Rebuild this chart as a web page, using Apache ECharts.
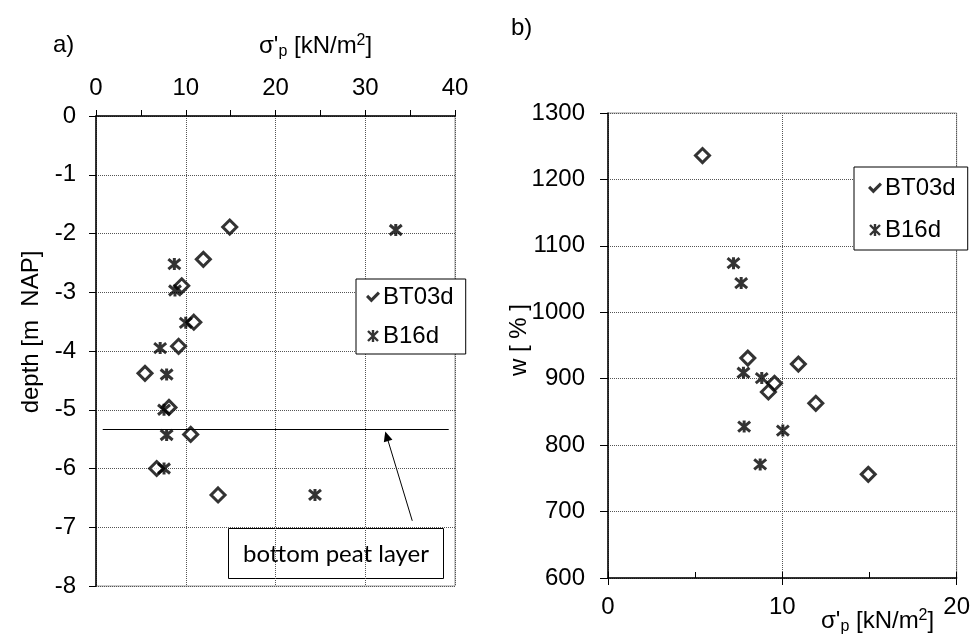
<!DOCTYPE html>
<html>
<head>
<meta charset="utf-8">
<script src="https://cdn.jsdelivr.net/npm/echarts@6/dist/echarts.min.js"></script>
<style>html,body{margin:0;padding:0;background:#fff}#c{width:973px;height:637px}</style>
</head>
<body>
<div id="c"></div>
<script>
// ---- data: panel a (depth vs preconsolidation stress) ----
const aSigmaBT03d = [14.9, 11.96, 9.55, 10.9, 9.2, 5.46, 8.13, 10.55, 6.76, 13.6];
const aDepthBT03d = [-1.89, -2.44, -2.89, -3.51, -3.92, -4.38, -4.96, -5.42, -6.0, -6.45];
const aSigmaB16d = [33.4, 8.73, 8.8, 10.0, 7.15, 7.87, 7.58, 7.87, 7.58, 24.4];
const aDepthB16d = [-1.94, -2.52, -2.97, -3.52, -3.95, -4.4, -5.0, -5.43, -6.0, -6.45];
// ---- data: panel b (water content vs preconsolidation stress) ----
const bSigmaBT03d = [5.42, 8.02, 10.92, 9.55, 9.2, 11.92, 14.93];
const bWBT03d = [1236, 931, 922, 893, 880, 863, 756];
const bSigmaB16d = [7.2, 7.64, 7.77, 8.82, 7.81, 10.03, 8.73];
const bWB16d = [1074, 1044, 909, 901, 828, 822, 771];
// ---- annotation: bottom peat layer ----
const peatDepth = -5.33;
const peatLineX = [0.75, 39.3];
const arrowFrom = [35.24, -6.89];
const arrowTo = [32.39, -5.45];
const seriesNames = ['BT03d', 'B16d'];
const peatLabel = 'bottom peat layer';
const aXTicks = [0, 40, 10];
const aYTicks = [-8, 0, 1];
const bXTicks = [0, 20, 10];
const bYTicks = [600, 1300, 100];

const FONT = "'Liberation Sans', Arial, sans-serif";
const FS = 24;
const pairs = (xs, ys) => xs.map((x, i) => [x, ys[i]]);
const starPath = 'path://M0,0L10,10M10,0L0,10M5,-1L5,11';
const checkPath = 'path://M0,5L2,3L5,6L11,0L13,2L5,10Z';
const gridLine = {show: true, lineStyle: {color: '#555', type: [1, 1], width: 1}};
const plain = v => String(v);
const axisLabelStyle = {color: '#000', fontSize: FS, fontFamily: FONT, formatter: plain};
const blackLine = {show: true, lineStyle: {color: '#000', width: 1.5}};

const diamondStyle = {color: '#fff', borderColor: '#000', borderWidth: 3};
const starStyle = {color: '#000', borderColor: '#000', borderWidth: 3};

function legendFor(left, top, padding, gap) {
  return {
    left: left, top: top, orient: 'vertical', padding: padding, itemGap: gap,
    itemWidth: 14, itemHeight: 12, backgroundColor: '#fff', borderColor: '#000', borderWidth: 1,
    borderRadius: 0,
    textStyle: {fontSize: FS, fontFamily: FONT, color: '#000', padding: [0, 0, 0, -2]},
    data: [
      {name: seriesNames[0], icon: checkPath, itemStyle: {color: '#000', borderWidth: 0}},
      {name: seriesNames[1], icon: starPath, itemStyle: {color: '#000', borderColor: '#000', borderWidth: 2.4}}
    ]
  };
}

function richTitle() {
  return {
    text: "{a|σ'}{s|p}{a| [kN/m}{u|2}{a|]}",
    rich: {
      a: {fontSize: FS, fontFamily: FONT, lineHeight: 27, fill: '#000'},
      s: {fontSize: 16, fontFamily: FONT, lineHeight: 12, verticalAlign: 'bottom', fill: '#000'},
      u: {fontSize: 16, fontFamily: FONT, lineHeight: 14, verticalAlign: 'top', fill: '#000'}
    }
  };
}

const chart = echarts.init(document.getElementById('c'), null, {renderer: 'canvas'});
const option = {
  animation: false,
  backgroundColor: '#fff',
  textStyle: {fontFamily: FONT},
  grid: [
    {left: 96, top: 116, width: 359, height: 470, show: true, borderColor: '#999', borderWidth: 1, backgroundColor: 'transparent'},
    {left: 608, top: 113, width: 349, height: 465, show: true, borderColor: '#999', borderWidth: 1, backgroundColor: 'transparent'}
  ],
  xAxis: [
    {gridIndex: 0, type: 'value', position: 'top', min: aXTicks[0], max: aXTicks[1], interval: aXTicks[2],
     axisLine: blackLine, axisTick: {show: true, length: 6, lineStyle: {color: '#000'}},
     minorTick: {show: true, splitNumber: 2, length: 6, lineStyle: {color: '#000'}},
     axisLabel: Object.assign({margin: 16}, axisLabelStyle), splitLine: gridLine},
    {gridIndex: 1, type: 'value', position: 'bottom', min: bXTicks[0], max: bXTicks[1], interval: bXTicks[2],
     axisLine: blackLine, axisTick: {show: true, length: 7, lineStyle: {color: '#000'}},
     axisLabel: Object.assign({margin: 17}, axisLabelStyle), splitLine: gridLine},
    {gridIndex: 1, type: 'value', position: 'bottom', min: bXTicks[0], max: bXTicks[1], interval: bXTicks[2] / 2,
     axisLine: {show: false}, axisTick: {show: true, inside: true, length: 6, lineStyle: {color: '#000'}},
     axisLabel: {show: false}, splitLine: {show: false}}
  ],
  yAxis: [
    {gridIndex: 0, type: 'value', min: aYTicks[0], max: aYTicks[1], interval: aYTicks[2],
     axisLine: blackLine, axisTick: {show: true, length: 7, lineStyle: {color: '#000'}},
     axisLabel: Object.assign({margin: 20}, axisLabelStyle), splitLine: gridLine},
    {gridIndex: 1, type: 'value', min: bYTicks[0], max: bYTicks[1], interval: bYTicks[2],
     axisLine: blackLine, axisTick: {show: true, length: 8, lineStyle: {color: '#000'}},
     axisLabel: Object.assign({margin: 23}, axisLabelStyle), splitLine: gridLine}
  ],
  legend: [
    legendFor(356, 279, [6, 12, 6, 10], 15),
    legendFor(854, 167, [9, 12, 8, 14], 18)
  ],
  series: [
    {name: seriesNames[0], type: 'scatter', xAxisIndex: 0, yAxisIndex: 0,
     data: pairs(aSigmaBT03d, aDepthBT03d), symbol: 'diamond', symbolSize: 14, itemStyle: diamondStyle, z: 3,
     markLine: {
       silent: true, animation: false, symbol: ['none', 'none'], label: {show: false},
       lineStyle: {color: '#000', width: 1.2, type: 'solid'},
       data: [[{coord: [peatLineX[0], peatDepth]}, {coord: [peatLineX[1], peatDepth]}]]
     }},
    {name: seriesNames[1], type: 'scatter', xAxisIndex: 0, yAxisIndex: 0,
     data: pairs(aSigmaB16d, aDepthB16d), symbol: starPath, symbolSize: 12, itemStyle: starStyle, z: 4,
     markLine: {
       silent: true, animation: false, symbol: ['none', 'path://M0,10L5,0L10,10'], symbolSize: [9, 10],
       label: {show: false},
       lineStyle: {color: '#000', width: 1, type: 'solid'},
       itemStyle: {color: 'none', borderColor: '#000', borderWidth: 1},
       data: [[{coord: arrowFrom}, {coord: arrowTo}]]
     }},
    {name: seriesNames[0], type: 'scatter', xAxisIndex: 1, yAxisIndex: 1,
     data: pairs(bSigmaBT03d, bWBT03d), symbol: 'diamond', symbolSize: 14, itemStyle: diamondStyle, z: 3},
    {name: seriesNames[1], type: 'scatter', xAxisIndex: 1, yAxisIndex: 1,
     data: pairs(bSigmaB16d, bWB16d), symbol: starPath, symbolSize: 12, itemStyle: starStyle, z: 4}
  ],
  graphic: [
    {type: 'text', left: 53, top: 33, style: {text: 'a)', fontSize: FS, fontFamily: FONT, fill: '#000'}},
    {type: 'text', left: 511, top: 16, style: {text: 'b)', fontSize: FS, fontFamily: FONT, fill: '#000'}},
    {type: 'text', x: 259, y: 46, style: Object.assign({verticalAlign: 'middle', align: 'left'}, richTitle())},
    {type: 'text', x: 821, y: 621, style: Object.assign({verticalAlign: 'middle', align: 'left'}, richTitle())},
    {type: 'text', x: 31, y: 332, rotation: Math.PI / 2,
     style: {text: 'depth [m  NAP]', fontSize: FS, fontFamily: FONT, fill: '#000', align: 'center', verticalAlign: 'middle'}},
    {type: 'text', x: 519, y: 340, rotation: Math.PI / 2,
     style: {text: 'w [ % ]', fontSize: FS, fontFamily: FONT, fill: '#000', align: 'center', verticalAlign: 'middle'}},
    {type: 'group', left: 228, top: 528, children: [
      {type: 'rect', shape: {x: 0, y: 0, width: 215, height: 50}, style: {fill: '#fff', stroke: '#000', lineWidth: 1}},
      {type: 'text', x: 107.5, y: 26, style: {text: peatLabel, fontSize: 24, fontFamily: "Lato, 'Open Sans', sans-serif", fill: '#000', align: 'center', verticalAlign: 'middle'}}
    ]}
  ]
};
chart.setOption(option);
</script>
</body>
</html>
